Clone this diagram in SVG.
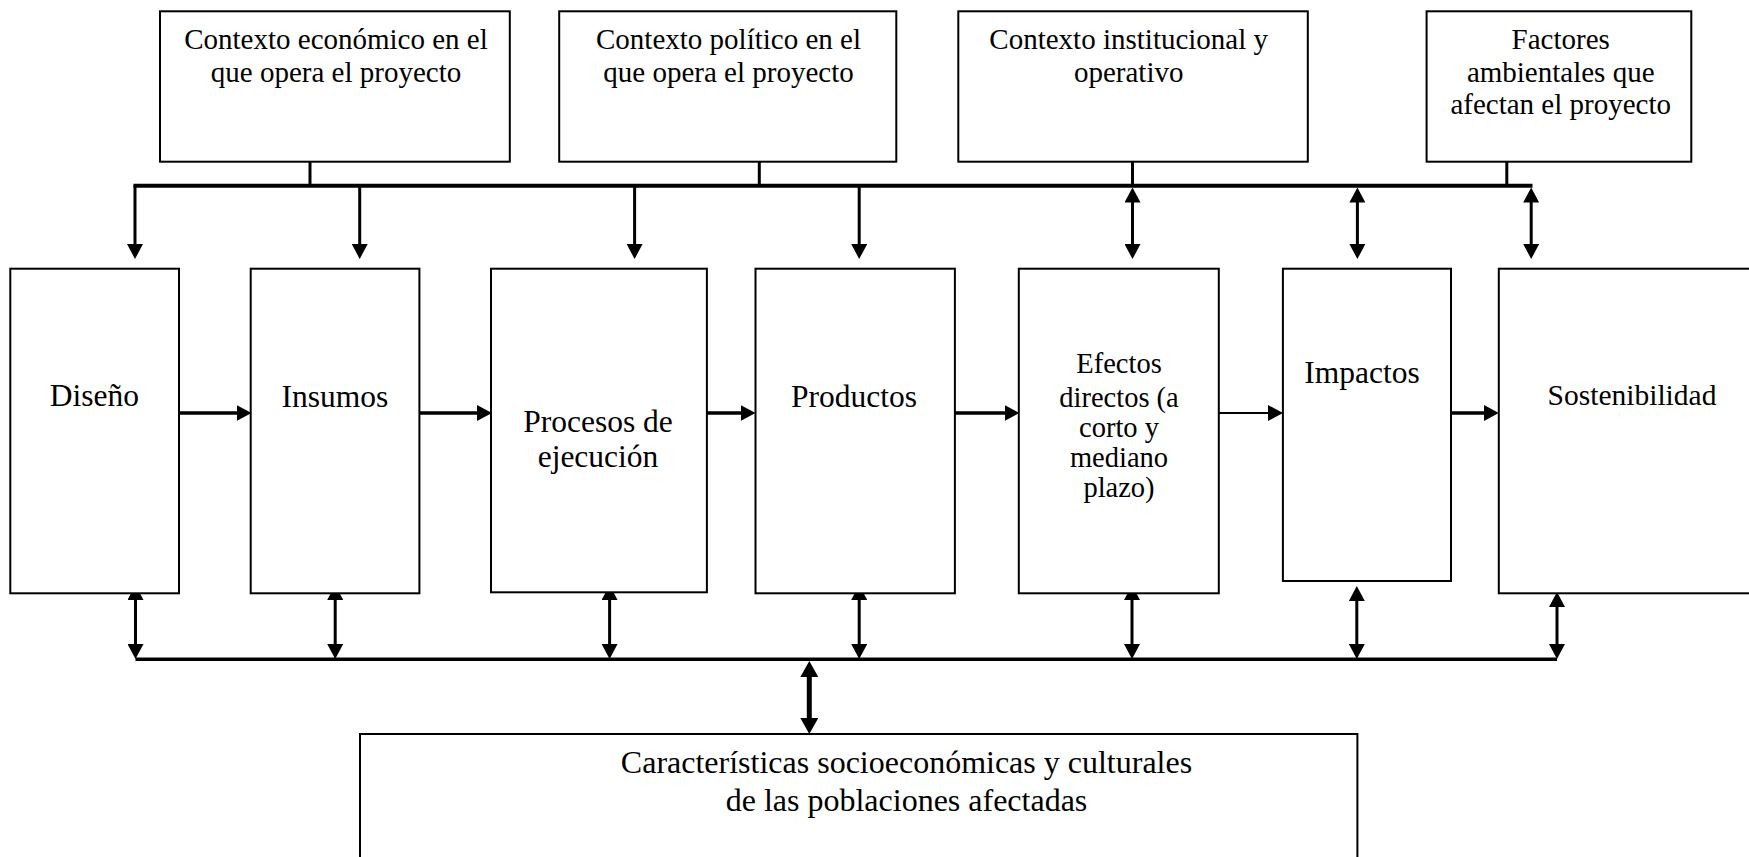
<svg xmlns="http://www.w3.org/2000/svg" width="1749" height="857" viewBox="0 0 1749 857">
<style>
.box{fill:#fff;stroke:#000;stroke-width:2}
.t{font-family:"Liberation Serif","Times New Roman",serif;fill:#000;text-anchor:middle}
.t29{font-size:29px}
.t31{font-size:31.5px}
.c{stroke:#000;fill:none;stroke-linecap:butt}
.bus{stroke-width:4}
.v{stroke-width:3}
.h{stroke-width:3.5}
.thin{stroke-width:2}
.big{stroke-width:5}
</style>
<defs>
<marker id="ah" viewBox="0 0 15 16" refX="3" refY="8" markerWidth="15" markerHeight="16" markerUnits="userSpaceOnUse" orient="auto-start-reverse">
<path d="M0,0 L15,8 L0,16 z" fill="#000"/>
</marker>
<marker id="ahb" viewBox="0 0 16 18" refX="3" refY="9" markerWidth="16" markerHeight="18" markerUnits="userSpaceOnUse" orient="auto-start-reverse">
<path d="M0,0 L16,9 L0,18 z" fill="#000"/>
</marker>
</defs>
<rect width="1749" height="857" fill="#fff"/>

<g id="connectors">
<!-- top box stubs -->
<line class="c v" x1="310" y1="162" x2="310" y2="186"/>
<line class="c v" x1="759.3" y1="162" x2="759.3" y2="186"/>
<line class="c v" x1="1132.5" y1="162" x2="1132.5" y2="186"/>
<line class="c v" x1="1506.8" y1="162" x2="1506.8" y2="186"/>
<!-- top bus -->
<line class="c bus" x1="133.5" y1="185.7" x2="1532.5" y2="185.7"/>
<!-- top down arrows -->
<line class="c v" x1="135" y1="185" x2="135" y2="247" marker-end="url(#ah)"/>
<line class="c v" x1="359.7" y1="185" x2="359.7" y2="247" marker-end="url(#ah)"/>
<line class="c v" x1="634.6" y1="185" x2="634.6" y2="247" marker-end="url(#ah)"/>
<line class="c v" x1="859.2" y1="185" x2="859.2" y2="247" marker-end="url(#ah)"/>
<!-- top double arrows -->
<line class="c v" x1="1132.5" y1="199.5" x2="1132.5" y2="247" marker-start="url(#ah)" marker-end="url(#ah)"/>
<line class="c v" x1="1357.4" y1="199.5" x2="1357.4" y2="247" marker-start="url(#ah)" marker-end="url(#ah)"/>
<line class="c v" x1="1531.2" y1="199.5" x2="1531.2" y2="247" marker-start="url(#ah)" marker-end="url(#ah)"/>
<!-- horizontal flow arrows -->
<line class="c h" x1="179" y1="413" x2="239.5" y2="413" marker-end="url(#ah)"/>
<line class="c h" x1="419.4" y1="413" x2="480" y2="413" marker-end="url(#ah)"/>
<line class="c h" x1="706.9" y1="413" x2="743.5" y2="413" marker-end="url(#ah)"/>
<line class="c h" x1="946.9" y1="413" x2="1007.5" y2="413" marker-end="url(#ah)"/>
<line class="c thin" x1="1210" y1="413" x2="1271" y2="413" marker-end="url(#ah)"/>
<line class="c h" x1="1451" y1="413" x2="1486.8" y2="413" marker-end="url(#ah)"/>
<!-- bottom double arrows -->
<line class="c v" x1="135.5" y1="597" x2="135.5" y2="647" marker-start="url(#ah)" marker-end="url(#ah)"/>
<line class="c v" x1="335.2" y1="597" x2="335.2" y2="647" marker-start="url(#ah)" marker-end="url(#ah)"/>
<line class="c v" x1="609.6" y1="597" x2="609.6" y2="647" marker-start="url(#ah)" marker-end="url(#ah)"/>
<line class="c v" x1="859.2" y1="597" x2="859.2" y2="647" marker-start="url(#ah)" marker-end="url(#ah)"/>
<line class="c v" x1="1132" y1="597" x2="1132" y2="647" marker-start="url(#ah)" marker-end="url(#ah)"/>
<line class="c v" x1="1356.8" y1="598" x2="1356.8" y2="647" marker-start="url(#ah)" marker-end="url(#ah)"/>
<line class="c v" x1="1557" y1="604" x2="1557" y2="647" marker-start="url(#ah)" marker-end="url(#ah)"/>
<!-- bottom bus -->
<line class="c h" x1="135.5" y1="659.3" x2="1557" y2="659.3"/>
<!-- central double arrow -->
<line class="c big" x1="809.3" y1="674" x2="809.3" y2="721" marker-start="url(#ahb)" marker-end="url(#ahb)"/>
</g>

<g id="ctx-economico">
<rect class="box" x="160" y="11.3" width="349.8" height="150.4"/>
<text class="t t29" x="336" y="49.3">Contexto económico en el</text>
<text class="t t29" x="336" y="81.7">que opera el proyecto</text>
</g>
<g id="ctx-politico">
<rect class="box" x="559.2" y="11.3" width="337.1" height="150.4"/>
<text class="t t29" x="728.5" y="49.3">Contexto político en el</text>
<text class="t t29" x="728.5" y="81.7">que opera el proyecto</text>
</g>
<g id="ctx-institucional">
<rect class="box" x="958.3" y="11.3" width="349.5" height="150.4"/>
<text class="t t29" x="1128.7" y="49.3">Contexto institucional y</text>
<text class="t t29" x="1128.7" y="81.7">operativo</text>
</g>
<g id="factores-ambientales">
<rect class="box" x="1426.6" y="11.3" width="264.7" height="150.4"/>
<text class="t t29" x="1560.7" y="49.3">Factores</text>
<text class="t t29" x="1560.7" y="81.7">ambientales que</text>
<text class="t t29" x="1560.7" y="114.3">afectan el proyecto</text>
</g>

<g id="diseno">
<rect class="box" x="10.3" y="268.7" width="168.7" height="324.6"/>
<text class="t t31" x="94.4" y="405.7">Diseño</text>
</g>
<g id="insumos">
<rect class="box" x="250.7" y="268.7" width="168.7" height="324.6"/>
<text class="t t31" x="335" y="406.7">Insumos</text>
</g>
<g id="procesos">
<rect class="box" x="491" y="268.7" width="215.9" height="323.6"/>
<text class="t t31" x="598" y="431.7">Procesos de</text>
<text class="t t31" x="598" y="467.3">ejecución</text>
</g>
<g id="productos">
<rect class="box" x="755.5" y="268.7" width="199.4" height="324.6"/>
<text class="t t31" x="854" y="406.7">Productos</text>
</g>
<g id="efectos">
<rect class="box" x="1018.8" y="268.7" width="200" height="324.6"/>
<g class="t" font-size="28.5">
<text x="1119" y="373.3">Efectos</text>
<text x="1119" y="406.7">directos (a</text>
<text x="1119" y="436.7">corto y</text>
<text x="1119" y="466.7">mediano</text>
<text x="1119" y="497.3">plazo)</text>
</g>
</g>
<g id="impactos">
<rect class="box" x="1282.9" y="268.7" width="168.1" height="312.3"/>
<text class="t t31" x="1362" y="382.7">Impactos</text>
</g>
<g id="sostenibilidad">
<rect class="box" x="1498.8" y="268.7" width="266" height="324.6"/>
<text class="t" font-size="29.5" x="1632" y="405">Sostenibilidad</text>
</g>

<g id="caracteristicas">
<rect class="box" x="360" y="734" width="997.4" height="140"/>
<text class="t" font-size="32" x="906.5" y="773.3">Características socioeconómicas y culturales</text>
<text class="t" font-size="32" x="906.5" y="810.7">de las poblaciones afectadas</text>
</g>
</svg>
